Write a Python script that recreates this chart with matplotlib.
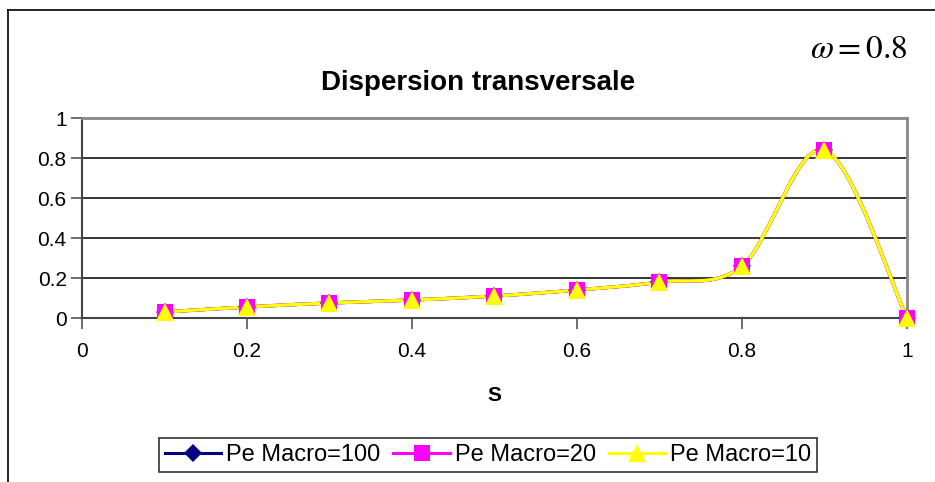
import matplotlib
matplotlib.use("Agg")
import matplotlib.pyplot as plt
from matplotlib.path import Path
from matplotlib.patches import PathPatch
from matplotlib.lines import Line2D

plt.rcParams['font.family'] = ['Liberation Sans', 'DejaVu Sans']
plt.rcParams['mathtext.fontset'] = 'stix'

# data
s = [0.1, 0.2, 0.3, 0.4, 0.5, 0.6, 0.7, 0.8, 0.9, 1.0]
pe100 = [0.03, 0.055, 0.075, 0.09, 0.11, 0.14, 0.18, 0.26, 0.84, 0.0]
pe20 = [0.03, 0.055, 0.075, 0.09, 0.11, 0.14, 0.18, 0.26, 0.84, 0.0]
pe10 = [0.03, 0.055, 0.075, 0.09, 0.11, 0.14, 0.18, 0.26, 0.84, 0.0]
labels = ["Pe Macro=100", "Pe Macro=20", "Pe Macro=10"]
colors = ["#000080", "#FF00FF", "#FFFF00"]
markers = ["D", "s", "^"]
msizes = [9, 12, 13]


# excel-style smoothed line: bezier segments with control points from neighbours
def smooth_path(xs, ys):
    pts = list(zip(xs, ys))
    n = len(pts)
    verts = [pts[0]]
    codes = [Path.MOVETO]
    for i in range(n - 1):
        p0 = pts[max(i - 1, 0)]
        p1 = pts[i]
        p2 = pts[i + 1]
        p3 = pts[min(i + 2, n - 1)]
        c1 = (p1[0] + (p2[0] - p0[0]) / 6, p1[1] + (p2[1] - p0[1]) / 6)
        c2 = (p2[0] - (p3[0] - p1[0]) / 6, p2[1] - (p3[1] - p1[1]) / 6)
        verts += [c1, c2, p2]
        codes += [Path.CURVE4] * 3
    return Path(verts, codes)


fig = plt.figure(figsize=(9.35, 4.82), dpi=100)
ax = fig.add_axes([82 / 935, 1 - 318 / 482, 825 / 935, 200 / 482])

for ys, col, mk, ms in zip([pe100, pe20, pe10], colors, markers, msizes):
    ax.add_patch(PathPatch(smooth_path(s, ys), facecolor="none", edgecolor=col, lw=2.4, zorder=3))
    ax.plot(s, ys, linestyle="none", marker=mk, color=col, markersize=ms,
            markeredgewidth=0, zorder=4, clip_on=False)

ax.set_xlim(0, 1)
ax.set_ylim(0, 1)
ax.set_xticks([0, 0.2, 0.4, 0.6, 0.8, 1])
ax.set_xticklabels(["0", "0.2", "0.4", "0.6", "0.8", "1"])
ax.set_yticks([0, 0.2, 0.4, 0.6, 0.8, 1])
ax.set_yticklabels(["0", "0.2", "0.4", "0.6", "0.8", "1"])
ax.tick_params(labelsize=15, length=8, width=1.2, color="#555555", direction="out")
ax.tick_params(axis="y", pad=3)
ax.tick_params(axis="x", pad=9)
ax.yaxis.grid(True, color="black", lw=1.1)
ax.set_axisbelow(True)
for side in ["top", "right"]:
    ax.spines[side].set_color("#888888")
    ax.spines[side].set_linewidth(2)
for side in ["left", "bottom"]:
    ax.spines[side].set_color("#444444")
    ax.spines[side].set_linewidth(1.5)

ax.set_xlabel("S", fontsize=15, fontweight="bold", labelpad=18)
fig.text(478 / 935, 1 - 83 / 482, "Dispersion transversale", fontsize=20, fontweight="bold",
         ha="center", va="center")
fig.text(907 / 935, 1 - 50 / 482, r"$\omega = 0.8$", fontsize=24, ha="right", va="center")

# outer chart frame (cut by the image edge)
fig.add_artist(Line2D([8 / 935, 8 / 935], [0, 1 - 10 / 482], transform=fig.transFigure, color="black", lw=1.2))
fig.add_artist(Line2D([8 / 935, 1], [1 - 10 / 482, 1 - 10 / 482], transform=fig.transFigure, color="black", lw=1.2))

handles = [Line2D([], [], color=c, marker=m, markersize=ms, markeredgewidth=0, lw=2.2)
           for c, m, ms in zip(colors, markers, msizes)]
leg = fig.legend(handles, labels, loc="center", bbox_to_anchor=(488 / 935, 1 - 455 / 482), ncol=3,
                 fontsize=17, frameon=True, fancybox=False, edgecolor="black", handlelength=2.4,
                 handletextpad=0.2, columnspacing=0.55, borderpad=0.25, borderaxespad=0)
leg.get_frame().set_linewidth(1.2)

fig.savefig("out.png", dpi=100)
